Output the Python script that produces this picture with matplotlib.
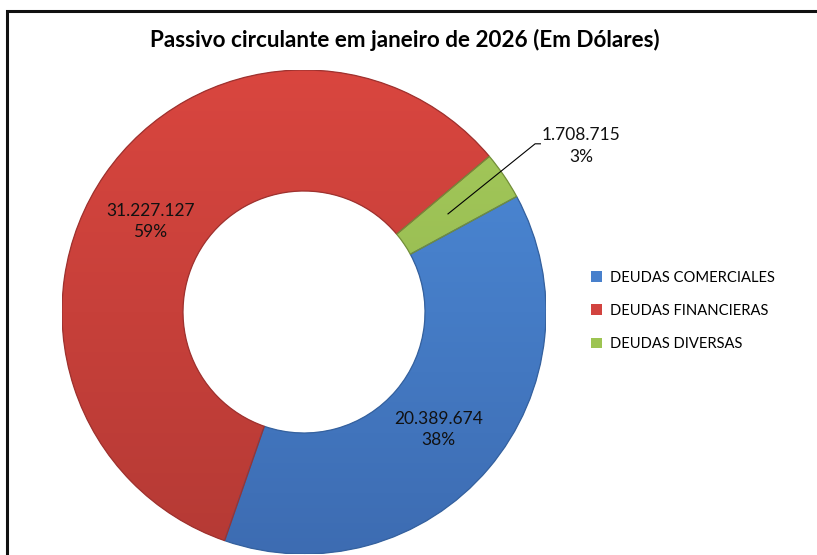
import numpy as np
import matplotlib.pyplot as plt
from matplotlib.patches import Rectangle, Wedge
from matplotlib.colors import LinearSegmentedColormap

plt.rcParams['font.family'] = ['Lato', 'DejaVu Sans']

categories = ['DEUDAS COMERCIALES', 'DEUDAS FINANCIERAS', 'DEUDAS DIVERSAS']
values = [20389674, 31227127, 1708715]
colors = ['#4880CC', '#D2433F', '#9DC452']
# top / bottom shades for the soft vertical gradient on each slice
shades = [('#4D8CDA', '#3D6CB2'), ('#D9463F', '#B53A35'), ('#A6CB5C', '#8AAE48')]
edges = ['#35619E', '#9E322F', '#738F3A']

W, H = 817, 555
fig = plt.figure(figsize=(W / 100, H / 100), dpi=100)

# outer frame (runs off the right and bottom edges)
fig.patches.append(Rectangle((7 / W, -0.1), 1.2, 1 - 10.5 / H + 0.1,
                             transform=fig.transFigure, fill=False,
                             edgecolor='#111111', linewidth=2.2))

cx, cy, R = 304, 312, 242
ax = fig.add_axes([(cx - R) / W, (H - cy - R) / H, 2 * R / W, 2 * R / H])

ring = 0.5
wedges, _ = ax.pie(values, colors=colors, startangle=28.5, counterclock=False,
                   radius=1, wedgeprops=dict(width=ring, linewidth=0))

grad = np.linspace(0, 1, 256).reshape(-1, 1)
for w, (top, bot), ec in zip(wedges, shades, edges):
    cmap = LinearSegmentedColormap.from_list('s', [top, bot])
    im = ax.imshow(grad, extent=[-1, 1, -1, 1], cmap=cmap, origin='upper',
                   aspect='auto', zorder=2, interpolation='bilinear')
    im.set_clip_path(w)
    ax.add_patch(Wedge((0, 0), 1, w.theta1, w.theta2, width=ring, fill=False,
                       edgecolor=ec, linewidth=0.9, zorder=3))

ax.set_xlim(-1, 1)
ax.set_ylim(-1, 1)
ax.set_aspect('equal')
ax.axis('off')

def fmt(v):
    return f'{v:,}'.replace(',', '.')

# label nudges in points
nudges = [(-3, 0), (-3, -9)]

total = sum(values)
for i, w in enumerate(wedges):
    mid = np.deg2rad((w.theta1 + w.theta2) / 2)
    pct = round(100 * values[i] / total)
    label = f'{fmt(values[i])}\n{pct}%'
    if i < 2:
        ax.annotate(label, (0.75 * np.cos(mid), 0.75 * np.sin(mid)),
                    xytext=nudges[i], textcoords='offset points',
                    ha='center', va='center', fontsize=12.5, linespacing=1.45,
                    color='#111111', zorder=4)
    else:
        x0, y0 = 0.72 * np.cos(mid), 0.72 * np.sin(mid)
        x1, y1 = 0.955, 0.695
        ax.plot([x0, x1, x1 + 0.022], [y0, y1, y1], color='black', lw=0.8,
                clip_on=False, zorder=4)
        ax.text(1.144, 0.685, label, ha='center', va='center', fontsize=12.5,
                linespacing=1.45, color='#111111', clip_on=False, zorder=4)

fig.text(405 / W, 1 - 40 / H, 'Passivo circulante em janeiro de 2026 (Em Dólares)',
         ha='center', va='center', fontsize=16.2, fontweight='bold')

fig.legend(wedges, categories, loc='center left',
           bbox_to_anchor=(578 / W, 1 - 311 / H), frameon=False,
           fontsize=10.6, handlelength=0.75, handleheight=0.75,
           handletextpad=0.5, labelspacing=1.3)

fig.savefig('out.png', dpi=100, facecolor='white')
